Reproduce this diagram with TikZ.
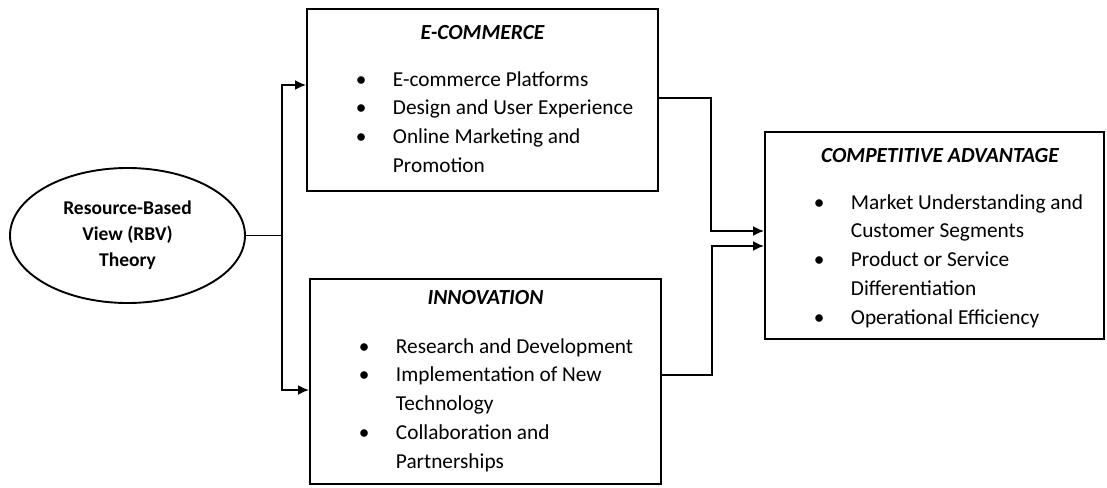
\documentclass[tikz,border=0pt]{standalone}
\usepackage{fontspec}
\setmainfont{Carlito}
\usetikzlibrary{positioning, arrows.meta, shapes.geometric}

\newcommand{\bul}[1]{\makebox[37pt][l]{\textbullet}#1}
\newcommand{\cnt}[1]{\hspace*{37pt}#1}

\begin{document}
\begin{tikzpicture}[x=1pt, y=-1pt, line width=1.9pt,
  box node/.style={rectangle,draw,inner sep=0pt},
  theory node/.style={ellipse,draw,inner sep=0pt,minimum width=235pt,minimum height=135pt,
    align=center,font=\fontsize{19.5}{26}\selectfont\bfseries},
  title node/.style={inner sep=0pt,anchor=base,font=\fontsize{21.5}{24}\selectfont\bfseries\itshape},
  list node/.style={inner sep=0pt,anchor=north west,align=left,font=\fontsize{21.3}{28.7}\selectfont},
  link/.style={-{Latex[length=11pt,width=10pt]}}]

\useasboundingbox (0,0) rectangle (1107,487);

\node[theory node] (theory) at (127.5,235.5) {Resource-Based\\View (RBV)\\Theory};

\node[box node, minimum width=351pt, minimum height=182pt] (ecom) at (482.5,100) {};
\node[box node, minimum width=351pt, minimum height=205pt] (innov) at (485.5,381.5) {};
\node[box node, minimum width=339pt, minimum height=207pt] (comp) at (934.5,235.5) {};

\node[title node] (ecomtitle) at (482.5,40) {E-COMMERCE};
\node[list node] (ecomlist) at (355,70.5) {\bul{E-commerce Platforms}\\\bul{Design and User Experience}\\
  \bul{Online Marketing and}\\\cnt{Promotion}};

\node[title node] (innovtitle) at (485.5,304) {INNOVATION};
\node[list node] (innovlist) at (358,337.5) {\bul{Research and Development}\\\bul{Implementation of New}\\
  \cnt{Technology}\\\bul{Collaboration and}\\\cnt{Partnerships}};

\node[title node] (comptitle) at (940,162) {COMPETITIVE ADVANTAGE};
\node[list node] (complist) at (813,193.5) {\bul{Market Understanding and}\\\cnt{Customer Segments}\\
  \bul{Product or Service}\\\cnt{Differentiation}\\\bul{Operational Efficiency}};

% split from the theory
\coordinate (split) at (282,235.5);
\draw (theory.east) -- (split);
\draw[link] (split) |- ([yshift=15pt]ecom.west);
\draw[link] (split) |- ([yshift=-8.5pt]innov.west);

% into competitive advantage
\draw[link] ([yshift=2pt]ecom.east) -- ++(52,0) |- ([yshift=4.5pt]comp.west);
\draw[link] ([yshift=6.5pt]innov.east) -- ++(50,0) |- ([yshift=-10.5pt]comp.west);

\end{tikzpicture}
\end{document}
